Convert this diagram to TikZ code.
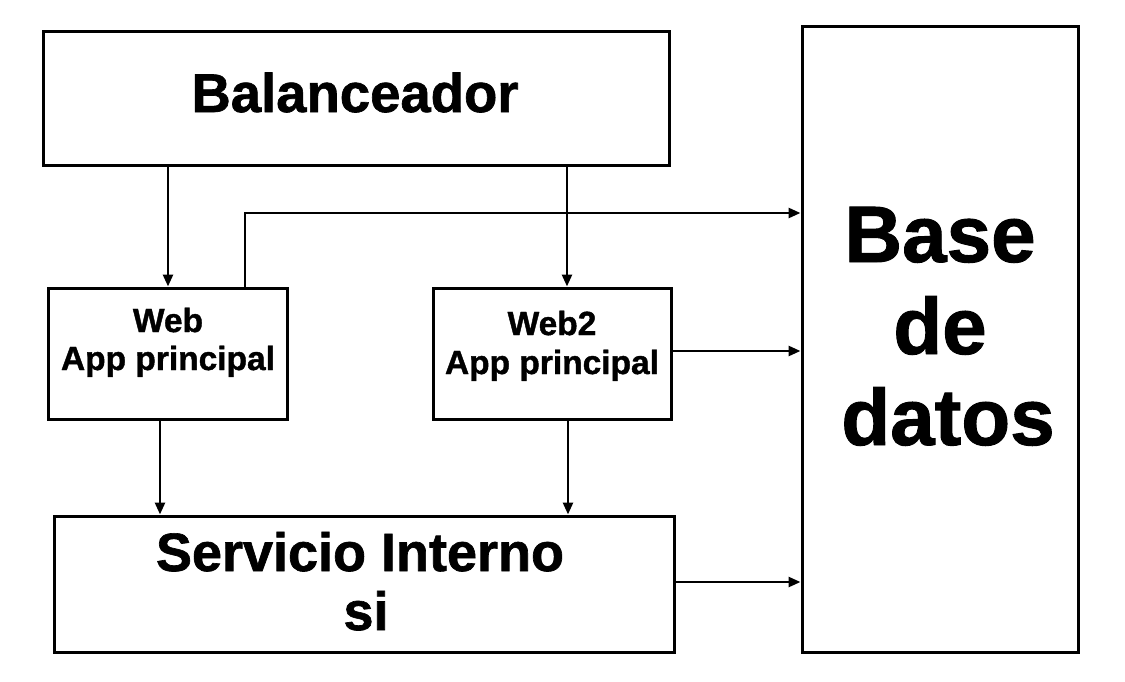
\documentclass[tikz,border=0pt]{standalone}
\usepackage{fontspec}
\setmainfont{Liberation Sans}
\newfontfamily\heavy{Liberation Sans Bold}[FakeBold=1.2]
\usetikzlibrary{arrows.meta}
\begin{document}
\begin{tikzpicture}[x=1pt,y=-1pt,
  box/.style={draw,line width=3pt,rectangle,inner sep=0pt},
  txt/.style={align=center,inner sep=0pt,anchor=base},
  conn/.style={line width=2.6pt,-{Triangle[length=12pt,width=10pt]}}]
\useasboundingbox (0,0) rectangle (1125,681);
% boxes
\node[box,minimum width=626pt,minimum height=134pt] (bal) at (356,98) {};
\node[box,minimum width=276pt,minimum height=626pt] (db) at (940,339) {};
\node[box,minimum width=239pt,minimum height=131pt] (web) at (167.5,353.5) {};
\node[box,minimum width=238pt,minimum height=131pt] (web2) at (552,353.5) {};
\node[box,minimum width=620pt,minimum height=136pt] (srv) at (364,584) {};
% texts
\node[txt,font=\heavy\fontsize{54.5}{60}\selectfont] (tbal) at (355,112) {Balanceador};
\node[txt,font=\heavy\fontsize{80}{92}\selectfont] (tdb1) at (940,262) {Base};
\node[txt,font=\heavy\fontsize{80}{92}\selectfont] (tdb2) at (940,354) {de};
\node[txt,font=\heavy\fontsize{80}{92}\selectfont] (tdb3) at (948,445) {datos};
\node[txt,font=\heavy\fontsize{33.5}{38}\selectfont] (tw1) at (168,332) {Web};
\node[txt,font=\heavy\fontsize{33.5}{38}\selectfont] (tw2) at (168,370) {App principal};
\node[txt,font=\heavy\fontsize{33.5}{38}\selectfont] (tv1) at (552,335) {Web2};
\node[txt,font=\heavy\fontsize{33.5}{38}\selectfont] (tv2) at (552,374) {App principal};
\node[txt,font=\heavy\fontsize{54}{60}\selectfont] (ts1) at (360,571) {Servicio Interno};
\node[txt,font=\heavy\fontsize{54}{60}\selectfont] (ts2) at (366,630) {si};
% connectors
\draw[conn] (bal.south -| 168,0) -- (web.north -| 168,0);
\draw[conn] (bal.south -| 567,0) -- (web2.north -| 567,0);
\draw[conn] (web.north -| 245,0) -- (245,213) -- (db.west |- 0,213);
\draw[conn] (web2.east |- 0,351) -- (db.west |- 0,351);
\draw[conn] (web.south -| 160,0) -- (srv.north -| 160,0);
\draw[conn] (web2.south -| 568,0) -- (srv.north -| 568,0);
\draw[conn] (srv.east |- 0,582) -- (db.west |- 0,582);
\end{tikzpicture}
\end{document}
